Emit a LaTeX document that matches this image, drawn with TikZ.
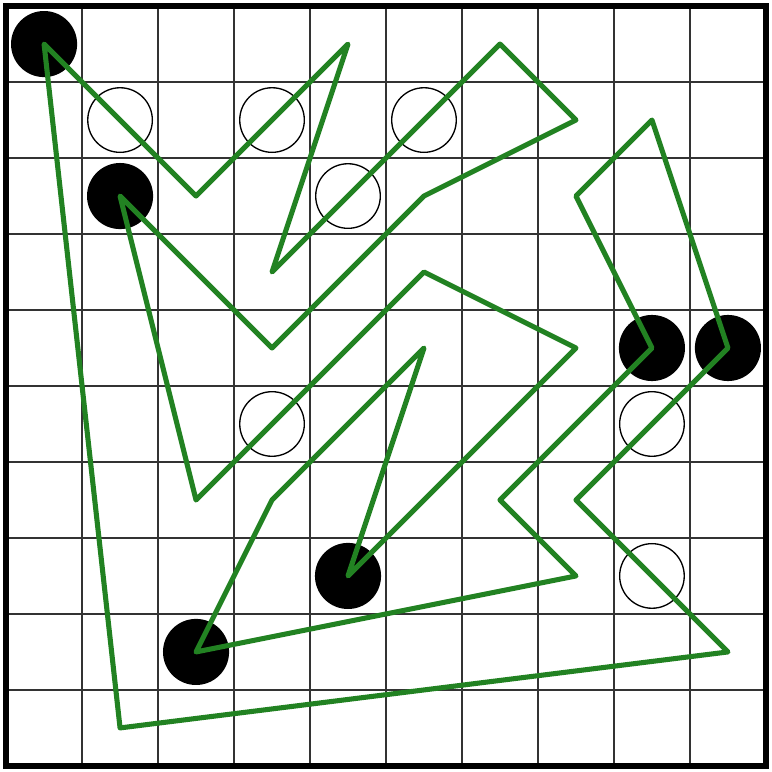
\documentclass[tikz,border=0pt]{standalone}
\definecolor{pathgreen}{RGB}{34,130,34}
\begin{document}
\begin{tikzpicture}[
    blackstone/.style={circle, fill=black, minimum size=0.87cm, inner sep=0pt},
    whitestone/.style={circle, draw=black, line width=0.5pt, fill=white, minimum size=0.85cm, inner sep=0pt},
    tour/.style={pathgreen, line width=1.9pt, line join=round, line cap=round}]
    \useasboundingbox (-0.08,-0.08) rectangle (10.08,10.08);

    % grid
    \draw[line width=0.7pt, black!80] (0,0) grid (10,10);
    \draw[line width=2pt] (0,0) rectangle (10,10);

    % white stones
    \node[whitestone] (w1) at (1.5,8.5) {};
    \node[whitestone] (w2) at (3.5,8.5) {};
    \node[whitestone] (w3) at (5.5,8.5) {};
    \node[whitestone] (w4) at (4.5,7.5) {};
    \node[whitestone] (w5) at (3.5,4.5) {};
    \node[whitestone] (w6) at (8.5,4.5) {};
    \node[whitestone] (w7) at (8.5,2.5) {};

    % black stones
    \node[blackstone] (b1) at (0.5,9.5) {};
    \node[blackstone] (b2) at (1.5,7.5) {};
    \node[blackstone] (b3) at (8.5,5.5) {};
    \node[blackstone] (b4) at (9.5,5.5) {};
    \node[blackstone] (b5) at (4.5,2.5) {};
    \node[blackstone] (b6) at (2.5,1.5) {};

    % closed tour
    \draw[tour] (b1.center) -- (2.5,7.5) -- (4.5,9.5) -- (3.5,6.5) -- (6.5,9.5)
        -- (7.5,8.5) -- (5.5,7.5) -- (3.5,5.5) -- (b2.center) -- (2.5,3.5)
        -- (5.5,6.5) -- (7.5,5.5) -- (b5.center) -- (5.5,5.5) -- (3.5,3.5)
        -- (b6.center) -- (7.5,2.5) -- (6.5,3.5) -- (b3.center) -- (7.5,7.5)
        -- (8.5,8.5) -- (b4.center) -- (7.5,3.5) -- (9.5,1.5) -- (1.5,0.5)
        -- cycle;

\end{tikzpicture}
\end{document}
